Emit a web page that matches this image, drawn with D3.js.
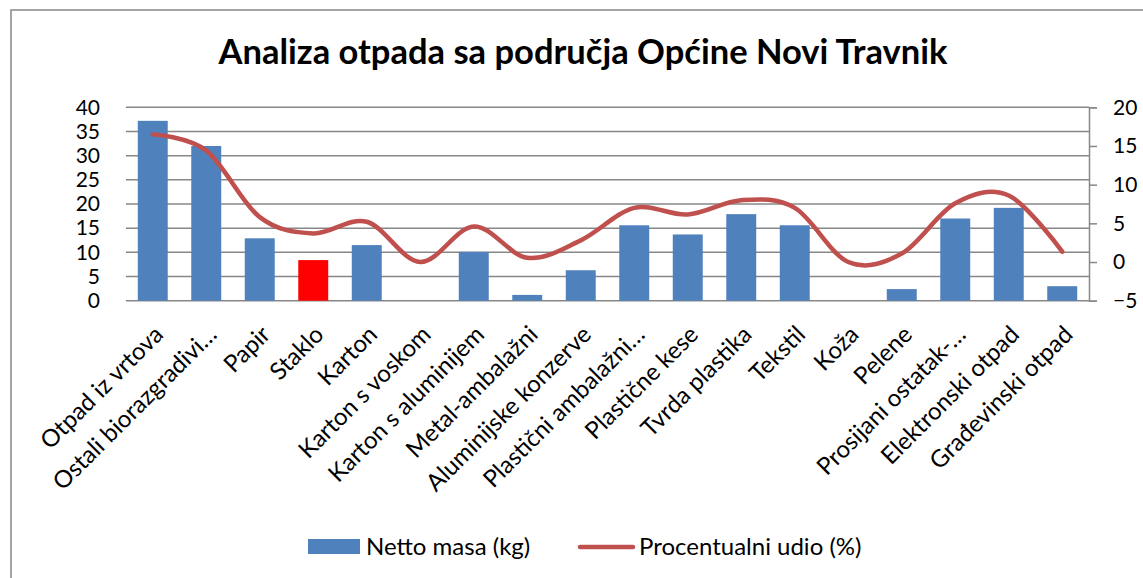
<!DOCTYPE html>
<html>
<head>
<meta charset="utf-8">
<script src="https://cdn.jsdelivr.net/npm/d3@7"></script>
<style>
  body { margin: 0; background: #fff; }
  text { font-family: Lato, 'Open Sans', sans-serif; fill: #000; }
</style>
</head>
<body>
<div id="chart"></div>
<script>
const categories = [
  'Otpad iz vrtova', 'Ostali biorazgradivi…', 'Papir', 'Staklo', 'Karton',
  'Karton s voskom', 'Karton s aluminijem', 'Metal-ambalažni', 'Aluminijske konzerve',
  'Plastični ambalažni…', 'Plastične kese', 'Tvrda plastika', 'Tekstil', 'Koža',
  'Pelene', 'Prosijani ostatak-…', 'Elektronski otpad', 'Građevinski otpad',
];
const netMass = [37.2, 32.0, 12.9, 8.4, 11.5, 0, 10.1, 1.2, 6.3, 15.6, 13.7, 17.9, 15.6, 0, 2.4, 17.0, 19.2, 3.0];
const percentShare = [16.5, 14.4, 5.8, 3.7, 5.2, 0, 4.6, 0.55, 2.8, 7.0, 6.15, 8.0, 7.0, 0, 1.1, 7.6, 8.6, 1.35];
const highlighted = ['Staklo'];
const leftTicks = [0, 5, 10, 15, 20, 25, 30, 35, 40];
const rightTicks = [-5, 0, 5, 10, 15, 20];
const seriesNames = ['Netto masa (kg)', 'Procentualni udio (%)'];

const width = 1143;
const height = 578;
const plot = { left: 126, right: 1089, top: 107.3, bottom: 300.7 };
const labelSize = '24px';
const tickSize = '21px';

const svg = d3.select('#chart').append('svg')
  .attr('width', width)
  .attr('height', height);

// outer chart frame (only top/left edges fall inside the picture)
svg.append('rect')
  .attr('x', 11).attr('y', 10)
  .attr('width', width + 20).attr('height', height + 20)
  .attr('fill', '#fff')
  .attr('stroke', '#868686')
  .attr('stroke-width', 1.5);

svg.append('text')
  .attr('x', 583).attr('y', 64)
  .attr('text-anchor', 'middle')
  .style('font-size', '34.5px')
  .style('font-weight', 'bold')
  .text('Analiza otpada sa područja Općine Novi Travnik');

const x = d3.scaleBand()
  .domain(categories)
  .range([plot.left, plot.right])
  .paddingInner(0.44)
  .paddingOuter(0.22);

const yLeft = d3.scaleLinear().domain([0, 40]).range([plot.bottom, plot.top]);
const yRight = d3.scaleLinear().domain([-5, 20]).range([plot.bottom, plot.top]);

// gridlines
svg.append('g')
  .selectAll('line')
  .data(leftTicks)
  .join('line')
  .attr('x1', plot.left).attr('x2', plot.right)
  .attr('y1', d => yLeft(d)).attr('y2', d => yLeft(d))
  .attr('stroke', '#878787')
  .attr('stroke-width', 1.5);

// left axis labels
const leftAxis = svg.append('g')
  .attr('transform', `translate(${plot.left},0)`)
  .call(d3.axisLeft(yLeft).tickValues(leftTicks).tickSize(0).tickPadding(26));
leftAxis.select('.domain').remove();
leftAxis.selectAll('text').style('font-size', tickSize);

// right axis
const rightAxis = svg.append('g')
  .attr('transform', `translate(${plot.right},0)`)
  .call(d3.axisRight(yRight).tickValues(rightTicks).tickSize(8).tickPadding(16));
rightAxis.selectAll('line, path').attr('stroke', '#878787').attr('stroke-width', 1.5);
rightAxis.selectAll('text').style('font-size', tickSize);

// bars
svg.append('g')
  .selectAll('rect')
  .data(categories)
  .join('rect')
  .attr('x', d => x(d))
  .attr('y', (d, i) => yLeft(netMass[i]))
  .attr('width', x.bandwidth())
  .attr('height', (d, i) => yLeft(0) - yLeft(netMass[i]))
  .attr('fill', d => (highlighted.includes(d) ? '#ff0000' : '#4f81bd'));

// smoothed percentage line
const line = d3.line()
  .x((d, i) => x(categories[i]) + x.bandwidth() / 2)
  .y(d => yRight(d))
  .curve(d3.curveCardinal.tension(0));

svg.append('path')
  .datum(percentShare)
  .attr('d', line)
  .attr('fill', 'none')
  .attr('stroke', '#c0504d')
  .attr('stroke-width', 4.5)
  .attr('stroke-linecap', 'round');

// rotated category labels
svg.append('g')
  .selectAll('text')
  .data(categories)
  .join('text')
  .attr('transform', d => `translate(${x(d) + x.bandwidth() / 2 + 12},336) rotate(-45)`)
  .attr('text-anchor', 'end')
  .style('font-size', labelSize)
  .text(d => d);

// legend
const legend = svg.append('g');
legend.append('rect')
  .attr('x', 308).attr('y', 539)
  .attr('width', 52).attr('height', 15)
  .attr('fill', '#4f81bd');
legend.append('text')
  .attr('x', 366).attr('y', 555)
  .style('font-size', labelSize)
  .text(seriesNames[0]);
legend.append('line')
  .attr('x1', 580).attr('x2', 633)
  .attr('y1', 547).attr('y2', 547)
  .attr('stroke', '#c0504d')
  .attr('stroke-width', 4.5)
  .attr('stroke-linecap', 'round');
legend.append('text')
  .attr('x', 639).attr('y', 555)
  .style('font-size', labelSize)
  .text(seriesNames[1]);
</script>
</body>
</html>
